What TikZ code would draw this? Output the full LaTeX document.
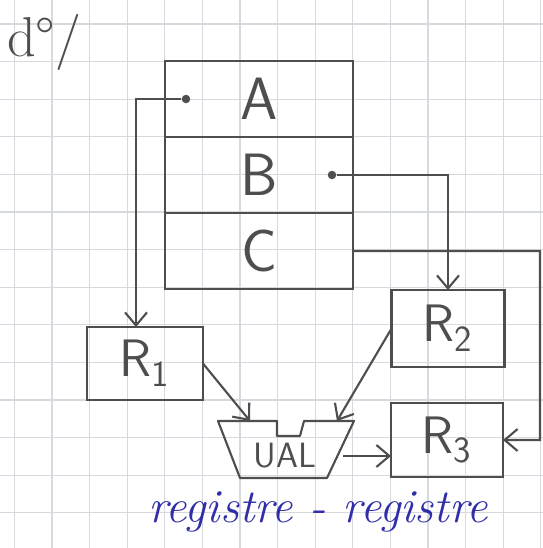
\documentclass[tikz,border=0pt]{standalone}
\usepackage{fontspec}
\definecolor{pencil}{RGB}{78, 78, 78}
\definecolor{ink}{RGB}{48, 46, 168}
\definecolor{squares}{RGB}{214, 217, 222}
\usetikzlibrary{
    arrows.meta,
    positioning,
    calc
}

\begin{document}
\begin{tikzpicture}[x=0.02cm, y=-0.02cm,
    cell/.style={draw=pencil, line width=1.2pt, outer sep=0pt, inner sep=0pt,
        minimum width=3.76cm, minimum height=1.52cm,
        font=\sffamily\fontsize{34}{34}\selectfont, text=pencil},
    reg/.style={draw=pencil, line width=1.2pt, outer sep=0pt, inner sep=0pt,
        font=\sffamily\fontsize{30}{30}\selectfont, text=pencil},
    wire/.style={draw=pencil, line width=1.2pt},
    arr/.style={wire, -{Straight Barb[length=2.6mm, width=4.4mm]}},
    pin/.style={circle, fill=pencil, inner sep=0pt, minimum size=0.17cm}]

    % squared paper
    \fill[white] (0,0) rectangle (543,548);
    \useasboundingbox (0,0) rectangle (543,548);
    \foreach \k in {0,...,14}
        \draw[squares, line width=0.6pt] ({14.4+37.6*\k},0) -- ++(0,548);
    \foreach \k in {0,...,13}
        \draw[squares, line width=0.6pt] (0,{24+37.6*\k}) -- ++(543,0);

    % heading
    \node[font=\fontsize{32}{32}\selectfont, text=pencil] (note) at (44,42) {d°/};

    % memory words
    \node[cell] (memA) at (259,99) {A};
    \node[cell, below=0pt of memA] (memB) {B};
    \node[cell, below=0pt of memB] (memC) {C};
    \node[pin] (dotA) at (186,99) {};
    \node[pin] (dotB) at (332,175) {};

    % registers
    \node[reg, minimum width=2.32cm, minimum height=1.46cm] (r1) at (145,363.5) {R\textsubscript{1}};
    \node[reg, minimum width=2.26cm, minimum height=1.54cm] (r2) at (448,328.5) {R\textsubscript{2}};
    \node[reg, minimum width=2.24cm, minimum height=1.48cm] (r3) at (447,440) {R\textsubscript{3}};

    % UAL
    \draw[wire, line join=round] (218,421) -- (277,421) -- (277,436) -- (300,436) -- (304,421)
        -- (354,421) -- (327,478) -- (240,478) -- cycle;
    \node[font=\sffamily\fontsize{20}{20}\selectfont, text=pencil] (alu) at (285,456) {UAL};
    \coordinate (aluinA) at (250,421);
    \coordinate (aluinB) at (337,421);
    \coordinate (aluout) at (343,456);
    \coordinate (cbend) at (540,251);

    % transfers
    \draw[arr] (dotA) -| ([xshift=-0.18cm]r1.north);
    \draw[arr] (dotB) -| (r2.north);
    \draw[arr] (memC.east) -- (cbend) |- (r3.east);
    \draw[arr] (r1.east) -- (aluinA);
    \draw[arr] (r2.west) -- (aluinB);
    \draw[arr] (aluout) -- (aluout -| r3.west);

    % mode
    \node[font=\itshape\fontsize{27}{27}\selectfont, text=ink, anchor=base] (mode) at (318,522) {registre - registre};
\end{tikzpicture}
\end{document}
